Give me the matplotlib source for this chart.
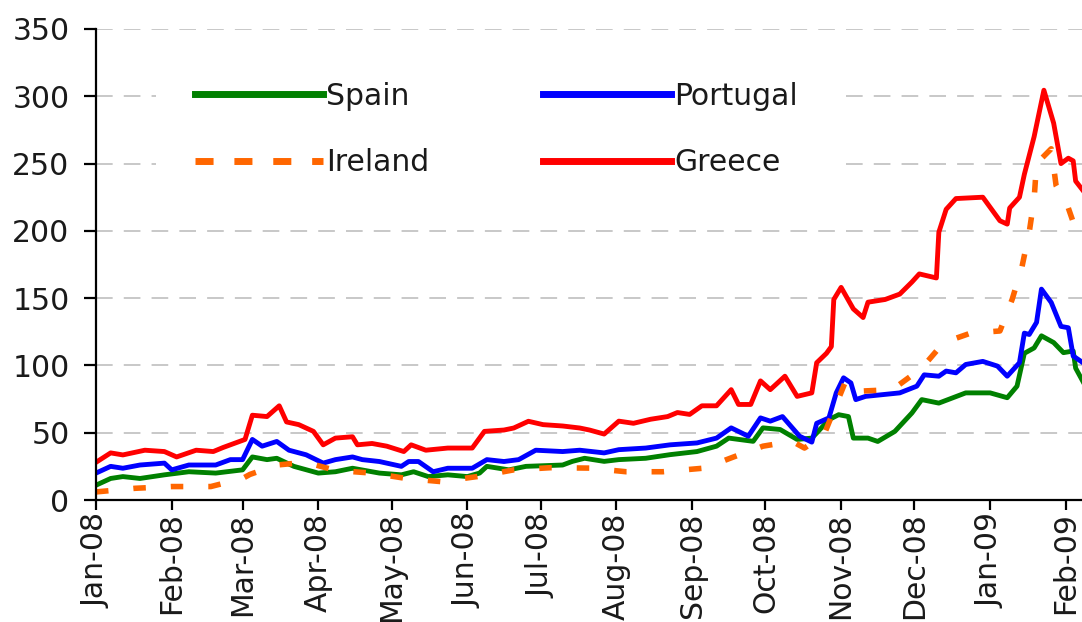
import matplotlib
matplotlib.use("Agg")
import matplotlib.pyplot as plt
import matplotlib.dates as mdates
import pandas as pd

# ---------------- data ----------------
spain_dates = ["2008-01-01","2008-01-07","2008-01-12","2008-01-19","2008-01-29","2008-02-08","2008-02-19",
               "2008-03-01","2008-03-05","2008-03-11","2008-03-15","2008-03-22","2008-04-01","2008-04-08",
               "2008-04-15","2008-04-26","2008-05-05","2008-05-10","2008-05-16","2008-05-24","2008-06-01",
               "2008-06-06","2008-06-09","2008-06-18","2008-06-25","2008-07-10","2008-07-14","2008-07-19",
               "2008-07-27","2008-08-02","2008-08-13","2008-08-23","2008-09-03","2008-09-11","2008-09-16",
               "2008-09-26","2008-09-30","2008-10-07","2008-10-14","2008-10-20","2008-10-22","2008-10-27",
               "2008-10-31","2008-11-04","2008-11-06","2008-11-12","2008-11-16","2008-11-23","2008-11-30",
               "2008-12-04","2008-12-11","2008-12-22","2009-01-01","2009-01-08","2009-01-12","2009-01-15",
               "2009-01-19","2009-01-22","2009-01-27","2009-01-31","2009-02-04","2009-02-05","2009-02-08"]
spain = [11, 16, 17.4, 16, 18.7, 21, 20, 22.4, 32, 30, 31, 25, 20, 21, 23.6, 20, 18.7, 21, 17.4, 18.7,
         17.4, 20, 25, 22.4, 25, 26, 28.7, 31, 28.7, 30, 31, 33.7, 36, 40, 46, 43.6, 53.6, 52.4, 45, 46,
         49.8, 59.7, 63.4, 62, 46, 46, 43.5, 51, 64.7, 74.6, 72, 79.6, 79.6, 76, 84.6, 109, 113, 122, 117,
         109.5, 110.7, 98, 88]

portugal_dates = ["2008-01-01","2008-01-07","2008-01-12","2008-01-19","2008-01-29","2008-02-01","2008-02-08",
                  "2008-02-19","2008-02-25","2008-03-01","2008-03-05","2008-03-09","2008-03-15","2008-03-20",
                  "2008-03-27","2008-04-03","2008-04-08","2008-04-15","2008-04-19","2008-04-26","2008-05-05",
                  "2008-05-08","2008-05-12","2008-05-18","2008-05-24","2008-06-03","2008-06-09","2008-06-16",
                  "2008-06-22","2008-06-29","2008-07-10","2008-07-17","2008-07-27","2008-08-02","2008-08-13",
                  "2008-08-23","2008-09-03","2008-09-11","2008-09-17","2008-09-24","2008-09-29","2008-10-03",
                  "2008-10-08","2008-10-15","2008-10-20","2008-10-22","2008-10-27","2008-10-30","2008-11-02",
                  "2008-11-05","2008-11-07","2008-11-11","2008-11-25","2008-12-02","2008-12-05","2008-12-11",
                  "2008-12-14","2008-12-18","2008-12-22","2008-12-29","2009-01-04","2009-01-08","2009-01-13",
                  "2009-01-15","2009-01-17","2009-01-20","2009-01-22","2009-01-26","2009-01-30","2009-02-02",
                  "2009-02-04","2009-02-08"]
portugal = [20, 25, 23.6, 26, 27.4, 22.4, 26, 26, 30, 30, 45, 40, 43.5, 37, 33.6, 27.4, 30, 32, 30, 28.6,
            25, 28.6, 28.6, 21, 23.6, 23.6, 30, 28.6, 30, 37, 36, 37, 35, 37.4, 38.6, 41, 42.4, 46, 53.6,
            47.4, 61, 58.6, 62, 47.4, 43, 57, 61, 79.6, 90.8, 87, 74.6, 77, 79.6, 84.6, 93, 92, 95.8, 94.5,
            100.7, 103, 99.5, 92, 102, 124, 123, 132, 156.7, 146.8, 129, 128, 107, 102]

ireland_dates = ["2008-01-01","2008-01-17","2008-02-01","2008-02-17","2008-03-01","2008-03-04","2008-03-15",
                 "2008-03-27","2008-04-08","2008-04-23","2008-05-07","2008-05-21","2008-06-05","2008-06-20",
                 "2008-07-05","2008-07-21","2008-08-05","2008-08-20","2008-09-06","2008-09-18","2008-09-30",
                 "2008-10-12","2008-10-17","2008-10-25","2008-11-01","2008-11-03","2008-11-10","2008-11-22",
                 "2008-12-04","2008-12-13","2008-12-24","2009-01-05","2009-01-10","2009-01-14","2009-01-17",
                 "2009-01-19","2009-01-20","2009-01-26","2009-01-28","2009-02-02","2009-02-06"]
ireland = [6, 8.7, 10, 10, 16, 19, 26, 28, 22, 20, 16, 13.7, 17.4, 22.4, 24, 23.7, 21, 21, 23.7, 32, 40,
           43.6, 38.6, 48.5, 80, 89, 81, 82, 98, 117, 124, 125.6, 149, 173, 199, 223.6, 250, 261, 233.6,
           217, 196]

greece_dates = ["2008-01-01","2008-01-07","2008-01-12","2008-01-21","2008-01-29","2008-02-03","2008-02-11",
                "2008-02-18","2008-02-22","2008-02-28","2008-03-02","2008-03-05","2008-03-11","2008-03-16",
                "2008-03-19","2008-03-24","2008-03-30","2008-04-03","2008-04-08","2008-04-15","2008-04-17",
                "2008-04-23","2008-04-29","2008-05-06","2008-05-09","2008-05-15","2008-05-24","2008-06-03",
                "2008-06-08","2008-06-16","2008-06-20","2008-06-26","2008-07-02","2008-07-10","2008-07-17",
                "2008-07-21","2008-07-27","2008-08-02","2008-08-08","2008-08-15","2008-08-22","2008-08-26",
                "2008-08-31","2008-09-05","2008-09-11","2008-09-17","2008-09-20","2008-09-25","2008-09-29",
                "2008-10-03","2008-10-09","2008-10-14","2008-10-20","2008-10-22","2008-10-26","2008-10-28",
                "2008-10-29","2008-11-01","2008-11-06","2008-11-10","2008-11-12","2008-11-19","2008-11-25",
                "2008-11-30","2008-12-03","2008-12-10","2008-12-11","2008-12-14","2008-12-18","2008-12-29",
                "2009-01-02","2009-01-05","2009-01-08","2009-01-09","2009-01-13","2009-01-15","2009-01-19",
                "2009-01-23","2009-01-27","2009-01-30","2009-02-02","2009-02-04","2009-02-05","2009-02-08"]
greece = [28, 35, 33.5, 37, 36, 32, 37, 36, 39, 43, 45, 63, 62, 70, 58, 56, 51, 41, 46, 47, 41, 42, 40, 36,
          41, 37, 38.6, 38.6, 51, 52, 53.5, 58.5, 56, 55, 53.5, 52, 49, 58.6, 57, 60, 62, 65, 63.6, 70, 70,
          82, 71, 71, 88.5, 82, 92, 77, 79.6, 102, 109, 114, 149, 158, 142, 135.6, 147, 149, 153, 162, 168,
          165, 199, 216, 224, 225, 215, 207.5, 205, 217, 225, 242, 270, 304.5, 280, 250, 254, 252, 237, 230]

series_names = ["Spain", "Ireland", "Portugal", "Greece"]
y_ticks = [0, 50, 100, 150, 200, 250, 300, 350]

# ---------------- drawing ----------------
plt.rcParams['font.family'] = ['DejaVu Sans']
plt.rcParams['lines.scale_dashes'] = False
FS = 21.5

W, H = 1082, 622
fig = plt.figure(figsize=(W / 100, H / 100), dpi=100)
ax = fig.add_axes([96 / W, 1 - 500 / H, 1 - 96 / W, (500 - 29) / H])

lw = 3.5
h_spain, = ax.plot(pd.to_datetime(spain_dates), spain, color='#008000', lw=lw)
h_port, = ax.plot(pd.to_datetime(portugal_dates), portugal, color='#0000FF', lw=lw)
h_greece, = ax.plot(pd.to_datetime(greece_dates), greece, color='#FF0000', lw=lw)
h_ire, = ax.plot(pd.to_datetime(ireland_dates), ireland, color='#FF6600', lw=4.0,
                 linestyle=(0, (9, 18)), dash_capstyle='butt')

start = pd.Timestamp("2008-01-01")
ax.set_xlim(start, start + pd.Timedelta(days=403.6))
ax.set_ylim(0, 350)
ax.set_yticks(y_ticks)

ax.xaxis.set_major_locator(mdates.MonthLocator())
ax.xaxis.set_major_formatter(mdates.DateFormatter('%b-%y'))

ax.yaxis.grid(True, color='#c4c4c4', lw=1.3, linestyle=(0, (12, 8)))
ax.set_axisbelow(True)

for s in ['top', 'right']:
    ax.spines[s].set_visible(False)
for s in ['left', 'bottom']:
    ax.spines[s].set_linewidth(1.6)
    ax.spines[s].set_color('black')

ax.tick_params(axis='y', length=9, width=1.6, pad=10, labelsize=FS, colors='black')
ax.tick_params(axis='x', length=7, width=1.6, pad=2, labelsize=FS, labelrotation=90, colors='black')
for t in ax.get_yticklabels() + ax.get_xticklabels():
    t.set_color('#1a1a1a')

leg = ax.legend([h_spain, h_ire, h_port, h_greece], series_names, ncol=2, loc='center',
                bbox_to_anchor=(0.4589, 0.7918), bbox_transform=fig.transFigure,
                frameon=True, fancybox=False, facecolor='white', edgecolor='none', framealpha=1,
                handlelength=4.3, handletextpad=0.1, columnspacing=3.8, labelspacing=1.27,
                borderpad=1.3, fontsize=FS)
for line in leg.get_lines():
    line.set_linewidth(5)
leg.get_lines()[1].set_linestyle((0, (13, 15)))
for t in leg.get_texts():
    t.set_color('#1a1a1a')

fig.savefig("out.png", dpi=100)
